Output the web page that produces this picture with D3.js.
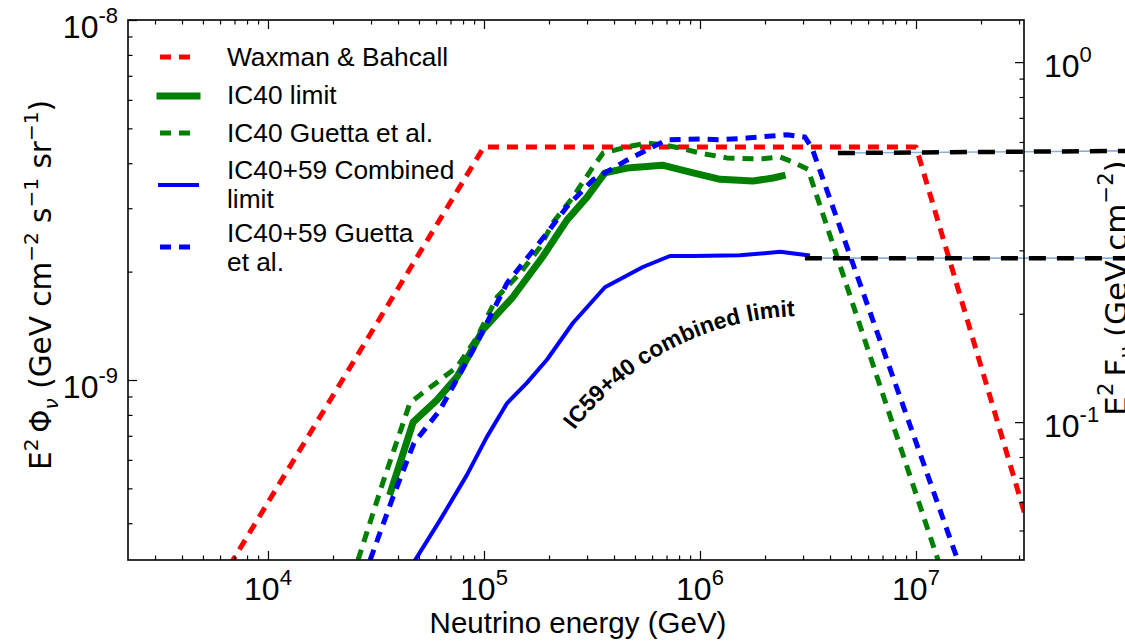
<!DOCTYPE html>
<html>
<head>
<meta charset="utf-8">
<script src="https://cdn.jsdelivr.net/npm/d3@7"></script>
<style>
  body { margin: 0; background: #fff; }
  svg { display: block; }
</style>
</head>
<body>
<svg id="chart" width="1125" height="641"></svg>
<script>
// Neutrino energy in GeV, E^2 flux in GeV cm^-2 s^-1 sr^-1

// Waxman & Bahcall bound
const wbEnergy = [1e3, 1e5, 1e7, 1e8];
const wbFlux   = [4.7e-11, 4.44e-9, 4.44e-9, 4.2e-11];

// IC40 limit
const ic40Energy = [3.7e4, 4.7e4, 6.05e4, 7.5e4, 9.9e4, 1.36e5, 1.87e5, 2.42e5, 3.0e5, 3.63e5,
                    4.6e5, 6.7e5, 9.3e5, 1.24e6, 1.76e6, 2.18e6, 2.4e6];
const ic40Limit  = [4.89e-10, 7.64e-10, 8.79e-10, 1.02e-9, 1.38e-9, 1.70e-9, 2.20e-9, 2.78e-9, 3.22e-9, 3.76e-9,
                    3.88e-9, 3.95e-9, 3.76e-9, 3.61e-9, 3.57e-9, 3.64e-9, 3.69e-9];

// IC40 Guetta et al. prediction
const ic40GuettaEnergy = [2.61e4, 3.4e4, 4.54e4, 5.05e4, 6.26e4, 7.5e4, 9.29e4, 1.15e5, 1.47e5, 1.82e5,
                          2.08e5, 2.58e5, 3.2e5, 3.56e5, 4.59e5, 5.68e5, 6.75e5, 8.08e5, 1.0e6, 1.33e6,
                          1.9e6, 2.35e6, 2.7e6, 3.16e6, 1.265e7];
const ic40GuettaFlux   = [3.16e-10, 5.18e-10, 8.63e-10, 9.08e-10, 1.0e-9, 1.087e-9, 1.315e-9, 1.70e-9, 1.98e-9, 2.34e-9,
                          2.73e-9, 3.22e-9, 3.91e-9, 4.27e-9, 4.44e-9, 4.55e-9, 4.50e-9, 4.41e-9, 4.27e-9, 4.14e-9,
                          4.11e-9, 4.16e-9, 4.03e-9, 3.85e-9, 3.16e-10];

// IC40+59 combined limit
const combEnergy = [4.8e4, 6.26e4, 8.34e4, 1.03e5, 1.28e5, 1.58e5, 1.96e5, 2.58e5, 3.63e5, 5.44e5,
                    7.26e5, 9.29e5, 1.53e6, 2.35e6, 3.16e6];
const combLimit  = [3.16e-10, 4.08e-10, 5.45e-10, 6.94e-10, 8.63e-10, 9.82e-10, 1.14e-9, 1.44e-9, 1.81e-9, 2.06e-9,
                    2.21e-9, 2.21e-9, 2.22e-9, 2.27e-9, 2.22e-9];

// IC40+59 Guetta et al. prediction
const combGuettaEnergy = [2.97e4, 3.79e4, 4.74e4, 6.26e4, 8.89e4, 1.28e5, 1.96e5, 2.42e5, 3.2e5, 4.59e5,
                          7.03e5, 1.0e6, 1.24e6, 1.65e6, 2.53e6, 3.06e6, 3.3e6, 1.56e7];
const combGuettaFlux   = [3.16e-10, 4.73e-10, 6.68e-10, 8.26e-10, 1.21e-9, 1.86e-9, 2.56e-9, 3.03e-9, 3.60e-9, 4.08e-9,
                          4.65e-9, 4.67e-9, 4.65e-9, 4.70e-9, 4.80e-9, 4.73e-9, 4.41e-9, 3.16e-10];

// Horizontal reference levels (black dashed)
const upperRefEnergy = [4.35e6, 1e8];
const upperRefFlux   = [4.27e-9, 4.33e-9];
const lowerRefEnergy = [3.06e6, 1e8];
const lowerRefFlux   = [2.18e-9, 2.18e-9];

// Axis ticks
const xMajorTicks = [1e4, 1e5, 1e6, 1e7];
const xTickExps   = ["4", "5", "6", "7"];
const yMajorTicks = [1e-8, 1e-9];
const yTickExps   = ["-8", "-9"];
const yRightMajorTicks = [1e0, 1e-1];
const yRightTickExps   = ["0", "-1"];

const legendLabels = [
  ["Waxman & Bahcall"],
  ["IC40 limit"],
  ["IC40 Guetta et al."],
  ["IC40+59 Combined", "limit"],
  ["IC40+59 Guetta", "et al."]
];

// ---------------------------------------------------------------
const svg = d3.select("#chart");
const box = { left: 128, right: 1024, top: 20, bottom: 560 };

const x = d3.scaleLog().domain([Math.pow(10, 3.352), Math.pow(10, 7.5)]).range([box.left, box.right]);
const y = d3.scaleLog().domain([Math.pow(10, -9.5), 1e-8]).range([box.bottom, box.top]);
const yRight = d3.scaleLog().domain([Math.pow(10, -1.383), Math.pow(10, 0.117)]).range([box.bottom, box.top]);

const tickFont = "Liberation Sans, Arial, Helvetica, sans-serif";

function minorTicks(scale) {
  const [a, b] = scale.domain();
  const lo = Math.floor(Math.log10(Math.min(a, b)));
  const hi = Math.ceil(Math.log10(Math.max(a, b)));
  const out = [];
  for (let e = lo; e <= hi; e++) {
    for (let m = 2; m <= 9; m++) {
      const v = m * Math.pow(10, e);
      if (v >= Math.min(a, b) && v <= Math.max(a, b)) out.push(v);
    }
  }
  return out;
}

const defs = svg.append("defs");
defs.append("clipPath").attr("id", "plotClip")
  .append("rect")
  .attr("x", box.left).attr("y", box.top)
  .attr("width", box.right - box.left).attr("height", box.bottom - box.top);

const zip = (a, b) => a.map((v, i) => [v, b[i]]);
const line = d3.line().x(d => x(d[0])).y(d => y(d[1]));

const curves = svg.append("g").attr("clip-path", "url(#plotClip)");

const series = [
  { data: zip(wbEnergy, wbFlux), color: "#ff0000", width: 5, dash: "11,8", cap: "butt" },
  { data: zip(ic40Energy, ic40Limit), color: "#008000", width: 7, dash: null, cap: "square" },
  { data: zip(ic40GuettaEnergy, ic40GuettaFlux), color: "#008000", width: 5, dash: "11,8", cap: "butt" },
  { data: zip(combEnergy, combLimit), color: "#0000ff", width: 4, dash: null, cap: "square" },
  { data: zip(combGuettaEnergy, combGuettaFlux), color: "#0000ff", width: 5, dash: "11,8", cap: "butt" }
];

series.forEach(s => {
  curves.append("path")
    .attr("d", line(s.data))
    .attr("fill", "none")
    .attr("stroke", s.color)
    .attr("stroke-width", s.width)
    .attr("stroke-dasharray", s.dash)
    .attr("stroke-linecap", s.cap)
    .attr("stroke-linejoin", "round");
});

// Reference levels run past the right spine
[zip(upperRefEnergy, upperRefFlux), zip(lowerRefEnergy, lowerRefFlux)].forEach(d => {
  svg.append("path").attr("d", line(d))
    .attr("fill", "none").attr("stroke", "#8ab0dd").attr("stroke-width", 1.6);
  svg.append("path").attr("d", line(d))
    .attr("fill", "none").attr("stroke", "#000").attr("stroke-width", 4.5)
    .attr("stroke-dasharray", "17,11");
});

// Curved annotation along the combined limit
const arcPath = d3.path();
arcPath.arc(806, 608, 292, -142.5 * Math.PI / 180, -78 * Math.PI / 180, false);
defs.append("path").attr("id", "annoArc").attr("d", arcPath.toString());
svg.append("text")
  .attr("font-family", tickFont)
  .attr("font-weight", "bold")
  .attr("font-size", 23)
  .attr("fill", "#000")
  .append("textPath")
  .attr("href", "#annoArc")
  .text("IC59+40 combined limit");

// ---------------- axes ----------------
function styleAxis(g) {
  g.select(".domain").remove();
  g.selectAll(".tick line").attr("stroke", "#000").attr("stroke-width", 1.2);
  g.selectAll(".tick text").remove();
}

const xMinor = minorTicks(x);
const yMinor = minorTicks(y);
const yRMinor = minorTicks(yRight);

// bottom & top
[[box.bottom, d3.axisBottom], [box.top, d3.axisTop]].forEach(([pos, fn]) => {
  svg.append("g").attr("transform", `translate(0,${pos})`)
    .call(fn(x).tickValues(xMajorTicks).tickSize(-9).tickFormat("")).call(styleAxis);
  svg.append("g").attr("transform", `translate(0,${pos})`)
    .call(fn(x).tickValues(xMinor).tickSize(-4.5).tickFormat("")).call(styleAxis);
});
// left
svg.append("g").attr("transform", `translate(${box.left},0)`)
  .call(d3.axisLeft(y).tickValues(yMajorTicks).tickSize(-9).tickFormat("")).call(styleAxis);
svg.append("g").attr("transform", `translate(${box.left},0)`)
  .call(d3.axisLeft(y).tickValues(yMinor).tickSize(-4.5).tickFormat("")).call(styleAxis);
// right
svg.append("g").attr("transform", `translate(${box.right},0)`)
  .call(d3.axisRight(yRight).tickValues(yRightMajorTicks).tickSize(-9).tickFormat("")).call(styleAxis);
svg.append("g").attr("transform", `translate(${box.right},0)`)
  .call(d3.axisRight(yRight).tickValues(yRMinor).tickSize(-4.5).tickFormat("")).call(styleAxis);

// frame
svg.append("rect")
  .attr("x", box.left).attr("y", box.top)
  .attr("width", box.right - box.left).attr("height", box.bottom - box.top)
  .attr("fill", "none").attr("stroke", "#000").attr("stroke-width", 1.6);

// power-of-ten labels
function powLabel(xp, yp, exp, anchor) {
  const t = svg.append("text")
    .attr("x", xp).attr("y", yp)
    .attr("text-anchor", anchor)
    .attr("font-family", tickFont)
    .attr("font-size", 32)
    .attr("fill", "#000");
  t.append("tspan").text("10");
  t.append("tspan").attr("font-size", 22).attr("dy", -15).text(exp);
}
xMajorTicks.forEach((v, i) => powLabel(x(v), 600, xTickExps[i], "middle"));
yMajorTicks.forEach((v, i) => powLabel(box.left - 10, y(v) + 18, yTickExps[i], "end"));
yRightMajorTicks.forEach((v, i) => powLabel(box.right + 20, yRight(v) + 15, yRightTickExps[i], "start"));

// axis titles
svg.append("text")
  .attr("x", (box.left + box.right) / 2 + 2).attr("y", 633)
  .attr("text-anchor", "middle")
  .attr("font-family", tickFont)
  .attr("font-size", 29.5)
  .text("Neutrino energy (GeV)");

const mathFont = "DejaVu Sans, sans-serif";
function mathLabel(tx, ty, size, parts) {
  const sub = size * 0.68;
  const t = svg.append("text")
    .attr("transform", `translate(${tx},${ty}) rotate(-90)`)
    .attr("text-anchor", "middle")
    .attr("font-family", mathFont)
    .attr("font-size", size)
    .attr("fill", "#000");
  parts.forEach(p => {
    const s = t.append("tspan").text(p.t);
    if (p.sup) s.attr("font-size", sub).attr("dy", -size * 0.44);
    if (p.sub) s.attr("font-size", sub).attr("dy", size * 0.24).attr("font-style", "italic");
    if (p.back) s.attr("dy", p.back * size);
  });
}
mathLabel(51, 285, 29.5, [
  { t: "E" }, { t: "2", sup: true }, { t: "\u2009\u03A6", back: 0.44 }, { t: "\u03BD", sub: true },
  { t: " (GeV cm", back: -0.24 }, { t: "\u22122", sup: true }, { t: " s", back: 0.44 }, { t: "\u22121", sup: true },
  { t: " sr", back: 0.44 }, { t: "\u22121", sup: true }, { t: ")", back: 0.44 }
]);
mathLabel(1127, 288, 31, [
  { t: "E" }, { t: "2", sup: true }, { t: "\u2009F", back: 0.44 }, { t: "\u03BD", sub: true },
  { t: " (GeV cm", back: -0.24 }, { t: "\u22122", sup: true }, { t: ")", back: 0.44 }
]);

// ---------------- legend ----------------
const legendRows = [57, 96, 133, 185, 247];
const legendBase = [[66], [104], [142], [179, 208], [242, 271]];
legendLabels.forEach((lines, i) => {
  const s = series[i];
  const solid = !s.dash;
  svg.append("line")
    .attr("x1", 160).attr("x2", solid ? 197 : 192)
    .attr("y1", legendRows[i]).attr("y2", legendRows[i])
    .attr("stroke", s.color)
    .attr("stroke-width", s.width)
    .attr("stroke-dasharray", s.dash)
    .attr("stroke-linecap", s.cap);
  lines.forEach((txt, j) => {
    svg.append("text")
      .attr("x", 227).attr("y", legendBase[i][j])
      .attr("font-family", tickFont)
      .attr("font-size", 26.3)
      .attr("fill", "#000")
      .text(txt);
  });
});
</script>
</body>
</html>
